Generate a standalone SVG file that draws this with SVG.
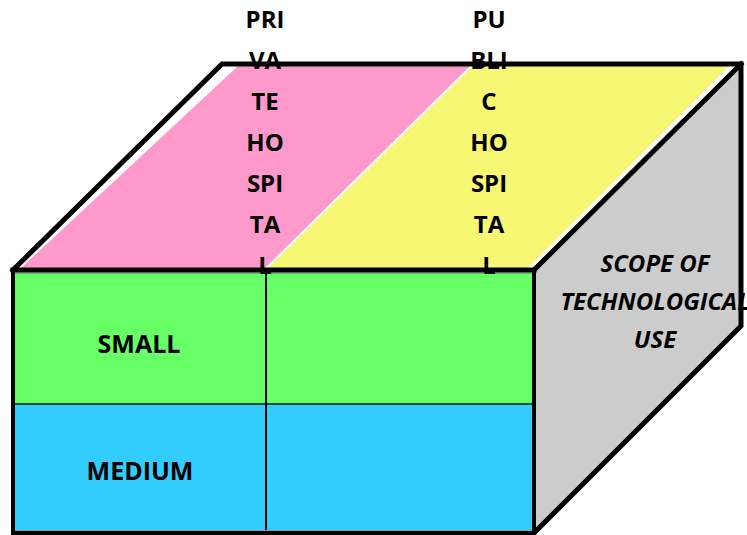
<svg xmlns="http://www.w3.org/2000/svg" width="747" height="535" viewBox="0 0 747 535">
  <style>
    .lbl { font-family: "Open Sans", "Noto Sans", "Liberation Sans", sans-serif; font-weight: 700; font-size: 24px; fill: #000; text-anchor: middle; }
    .row { font-size: 25px; }
    .ital { font-style: italic; font-size: 24px; }
    .edge { fill: none; stroke: #000; stroke-linejoin: miter; stroke-linecap: square; }
    .thick { stroke-width: 5; }
    .thin { stroke-width: 2; }
  </style>
  <rect width="747" height="535" fill="#fff"/>

  <!-- top face: private / public hospital panels -->
  <g id="top-private">
    <polygon points="21,268 238,66 470,66 265,268" fill="#FF99CC"/>
  </g>
  <g id="top-public">
    <polygon points="268,268 473,66 729,66 528,268" fill="#F7F774"/>
  </g>

  <!-- right face -->
  <g id="side-scope">
    <polygon points="534,270 741,64 741,326 534,533" fill="#CCCCCC"/>
  </g>

  <!-- front face cells -->
  <g id="cell-small">
    <rect x="13" y="270" width="253" height="134" fill="#66FF66"/>
  </g>
  <g id="cell-small-public">
    <rect x="266" y="270" width="268" height="134" fill="#66FF66"/>
  </g>
  <g id="cell-medium">
    <rect x="13" y="404" width="253" height="129" fill="#33CCFF"/>
  </g>
  <g id="cell-medium-public">
    <rect x="266" y="404" width="268" height="129" fill="#33CCFF"/>
  </g>

  <!-- cube edges and grid lines -->
  <g id="edges">
    <line class="edge thin" x1="13" y1="404" x2="534" y2="404" style="stroke:#1a1a1a;stroke-width:1.5"/>
    <line class="edge thin" x1="266" y1="270" x2="266" y2="533"/>
    <line x1="15" y1="273.5" x2="533" y2="273.5" stroke="#999" stroke-width="1"/>
    <line x1="15" y1="530.5" x2="533" y2="530.5" stroke="#999" stroke-width="1"/>
    <polyline class="edge thick" points="13,270 222,64 741,64 741,326 534,533"/>
    <line class="edge thick" x1="741" y1="64" x2="534" y2="270"/>
    <rect class="edge" x="13" y="270" width="521" height="263" style="stroke-width:4"/>
    <line class="edge thick" x1="13" y1="270" x2="534" y2="270"/>
  </g>

  <!-- column labels on the top face -->
  <g id="label-private">
    <text class="lbl" x="265" y="28">PRI</text>
    <text class="lbl" x="265" y="69">VA</text>
    <text class="lbl" x="265" y="110">TE</text>
    <text class="lbl" x="265" y="151">HO</text>
    <text class="lbl" x="265" y="192">SPI</text>
    <text class="lbl" x="265" y="233">TA</text>
    <text class="lbl" x="265" y="274">L</text>
  </g>
  <g id="label-public">
    <text class="lbl" x="489" y="28">PU</text>
    <text class="lbl" x="489" y="69">BLI</text>
    <text class="lbl" x="489" y="110">C</text>
    <text class="lbl" x="489" y="151">HO</text>
    <text class="lbl" x="489" y="192">SPI</text>
    <text class="lbl" x="489" y="233">TA</text>
    <text class="lbl" x="489" y="274">L</text>
  </g>

  <!-- row labels -->
  <g id="label-small">
    <text class="lbl row" x="139" y="353">SMALL</text>
  </g>
  <g id="label-medium">
    <text class="lbl row" x="140" y="480">MEDIUM</text>
  </g>

  <!-- side label -->
  <g id="label-scope">
    <text class="lbl ital" x="655" y="272">SCOPE OF</text>
    <text class="lbl ital" x="655" y="310">TECHNOLOGICAL</text>
    <text class="lbl ital" x="655" y="348">USE</text>
  </g>
</svg>
